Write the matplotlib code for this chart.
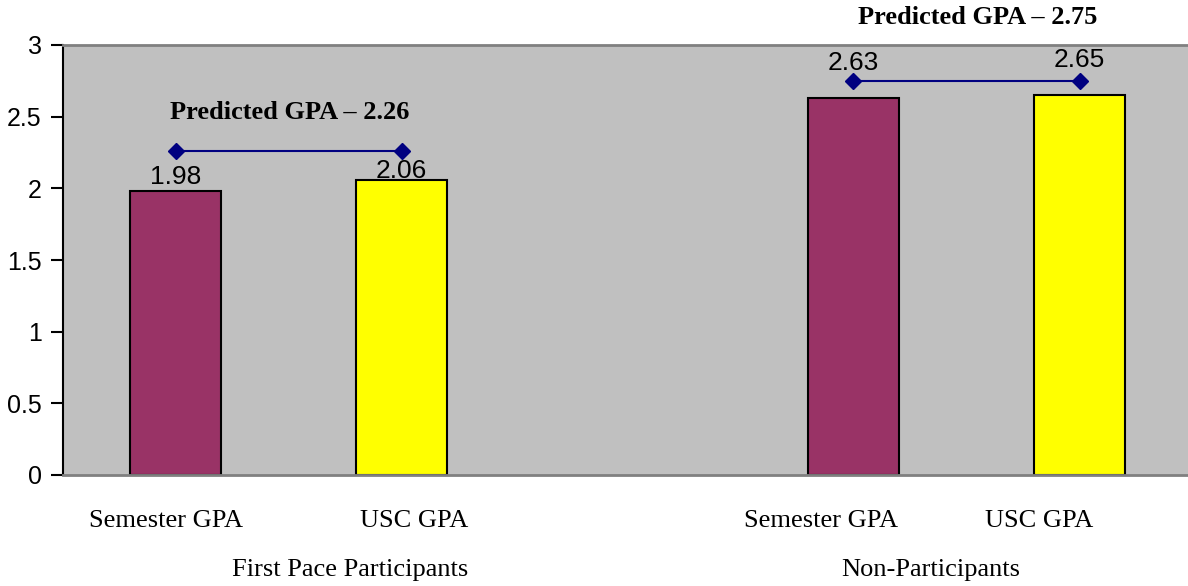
import matplotlib.pyplot as plt
import numpy as np

categories = ["Semester GPA", "USC GPA", "", "Semester GPA", "USC GPA"]
groups = ["First Pace Participants", "Non-Participants"]
bar_values = [1.98, 2.06, None, 2.63, 2.65]
bar_colors = ["#993366", "#FFFF00", None, "#993366", "#FFFF00"]
label_offsets = [0.10, 0.06, None, 0.245, 0.245]
predicted = [2.26, 2.26, None, 2.75, 2.75]
predicted_labels = ["Predicted GPA \u2013 2.26", "Predicted GPA \u2013 2.75"]

# where the axis texts sit (data x)
cat_label_x = [-0.04, 1.055, None, 2.856, 3.82]
group_label_x = [0.772, 3.34]
predicted_label_pos = [(0.504, 2.53), (3.55, 3.19)]

fig = plt.figure(figsize=(11.88, 5.86), dpi=100)
ax = fig.add_axes([62.5 / 1188, 1 - 475 / 586, 1130 / 1188, 430 / 586])
ax.set_facecolor("#C0C0C0")

x = np.arange(len(categories))
for i, v in enumerate(bar_values):
    if v is None:
        continue
    ax.bar(x[i], v, width=0.40, color=bar_colors[i], edgecolor="black", linewidth=1.5, zorder=2)
    ax.text(x[i], v + label_offsets[i], f"{v:.2f}", ha="center", va="center", fontsize=19,
            family="Liberation Sans", zorder=4, clip_on=False)

# predicted GPA lines
for a, b in [(0, 1), (3, 4)]:
    ax.plot([x[a], x[b]], [predicted[a], predicted[b]], color="#000080", linewidth=1.5,
            marker="D", markersize=8, zorder=3)
for (px, py), lab in zip(predicted_label_pos, predicted_labels):
    ax.text(px, py, lab, ha="center", va="center", fontsize=19, fontweight="bold",
            family="Liberation Serif", clip_on=False)

ax.set_xlim(-0.5, 4.5)
ax.set_ylim(0, 3)
ax.set_yticks(np.arange(0, 3.01, 0.5))
ax.set_yticklabels(["0", "0.5", "1", "1.5", "2", "2.5", "3"], fontsize=18, family="Liberation Sans")
ax.tick_params(axis="y", direction="out", length=9, width=1.5, pad=6)
ax.set_xticks([])

for c, cx in zip(categories, cat_label_x):
    if cx is None:
        continue
    ax.text(cx, -0.32, c, ha="center", va="center", fontsize=19,
            family="Liberation Serif", clip_on=False)
for g, gx in zip(groups, group_label_x):
    ax.text(gx, -0.66, g, ha="center", va="center", fontsize=19,
            family="Liberation Serif", clip_on=False)

ax.spines["left"].set_color("black")
ax.spines["left"].set_linewidth(1.5)
ax.spines["bottom"].set_color("#808080")
ax.spines["bottom"].set_linewidth(2)
ax.spines["top"].set_color("#808080")
ax.spines["top"].set_linewidth(2)
ax.spines["right"].set_visible(False)

fig.savefig("out.png", dpi=100)
